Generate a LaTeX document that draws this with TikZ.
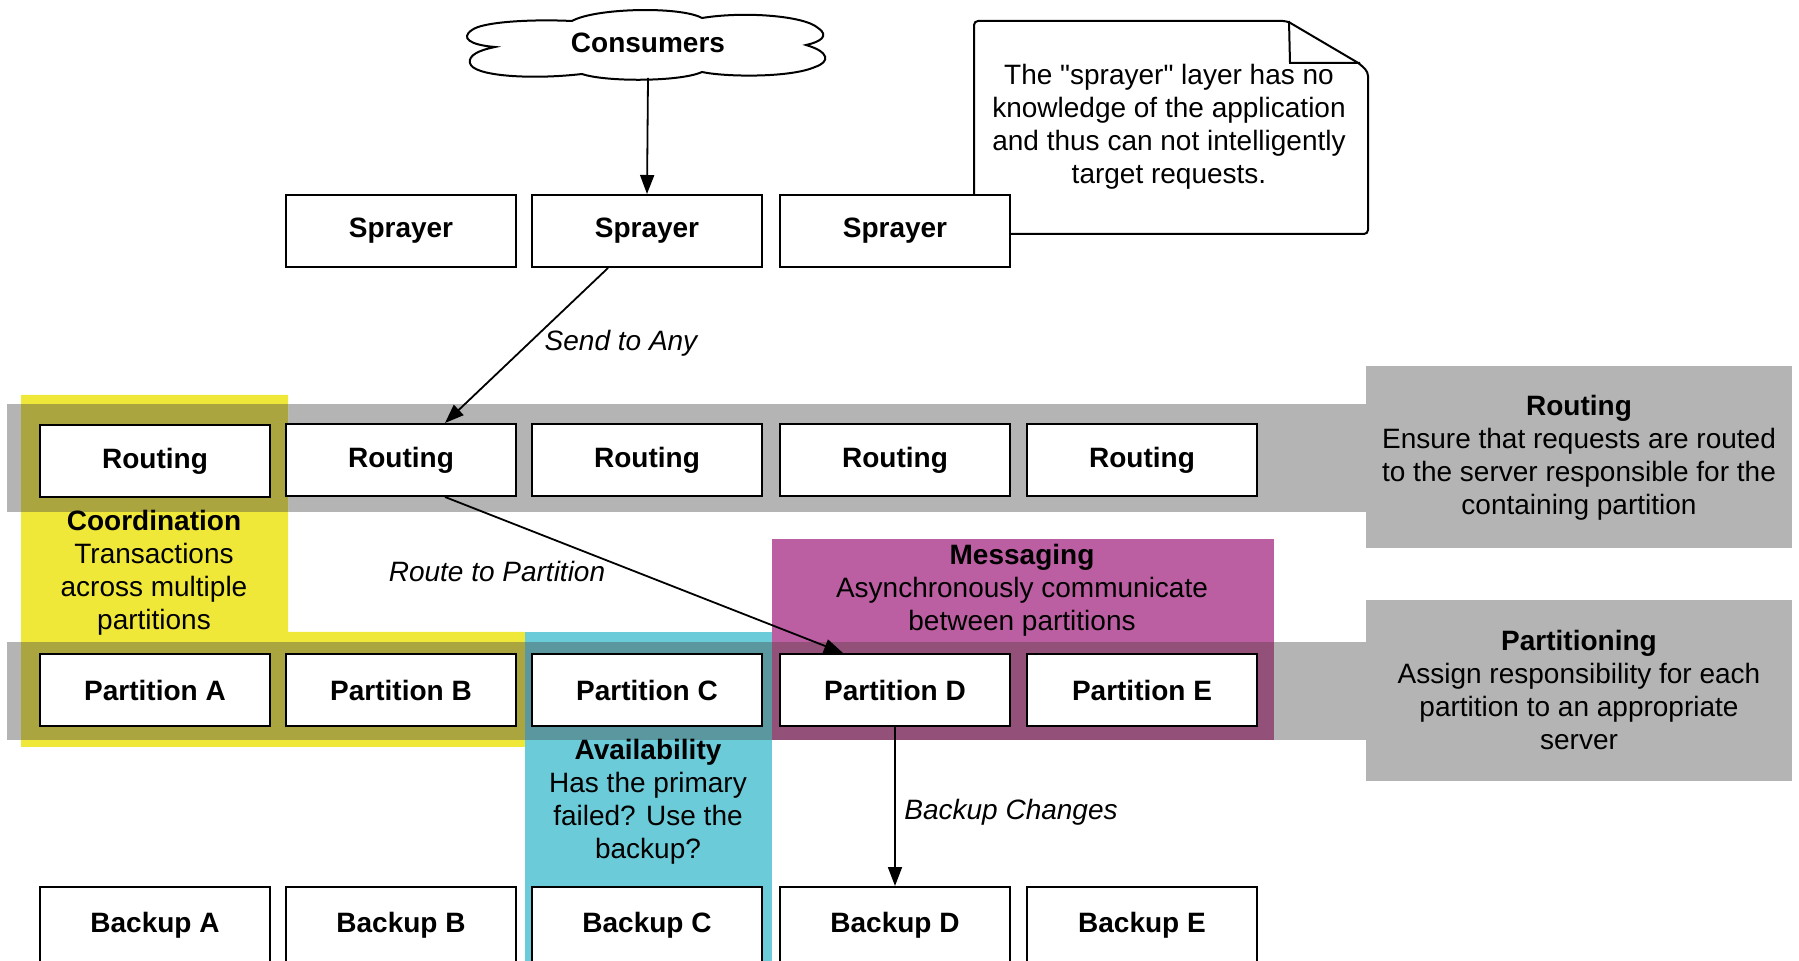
\documentclass[tikz,border=0pt]{standalone}
\usepackage{fontspec}
\setmainfont{Liberation Sans}
\newfontfamily\notefont{Liberation Sans}[Ligatures=TeXOff]
\usetikzlibrary{arrows.meta,calc}

\definecolor{bandgray}{HTML}{B4B4B4}
\definecolor{coordyellow}{HTML}{F0E839}
\definecolor{coordolive}{HTML}{AAA53E}
\definecolor{availcyan}{HTML}{6CCBD8}
\definecolor{availteal}{HTML}{5B979F}
\definecolor{msgmagenta}{HTML}{BC5EA2}
\definecolor{msgplum}{HTML}{935079}

\newcommand{\diagfont}{\fontsize{14}{16.5}\selectfont}

\tikzset{
  box/.style={draw, fill=white, line width=1pt, minimum width=115pt,
    minimum height=36pt, inner sep=0pt, font=\diagfont\bfseries},
  tallbox/.style={box, minimum height=38pt},
  conn/.style={line width=0.9pt, -{Triangle[length=9.5pt,width=7pt]}},
  edgelabel/.style={font=\diagfont\itshape, inner sep=0pt},
  infotext/.style={align=center, inner sep=0pt, font=\diagfont},
}

\begin{document}
\begin{tikzpicture}[x=0.5pt, y=-0.5pt]
\useasboundingbox (0,0) rectangle (1799,961);
\clip (0,0) rectangle (1799,961);

% layer bands
\fill[bandgray] (7,404) rectangle (1368,512);
\fill[bandgray] (7,642) rectangle (1368,740);
\fill[bandgray] (1366,366) rectangle (1792,548);
\fill[bandgray] (1366,600) rectangle (1792,781);

% concern regions
\fill[coordyellow] (21,395) -- (288,395) -- (288,632) -- (525,632) -- (525,747) -- (21,747) -- cycle;
\fill[availcyan] (525,632) rectangle (772,965);
\fill[msgmagenta] (772,539) rectangle (1274,740);

% where regions cross the bands
\fill[coordolive] (21,404) rectangle (288,512);
\fill[coordolive] (21,642) rectangle (525,740);
\fill[availteal] (525,642) rectangle (772,740);
\fill[msgplum] (772,642) rectangle (1274,740);

% note with folded corner
\draw[line width=1pt, fill=white, rounded corners=2pt]
  (974,200) -- (974,21) -- (1287,21) -- (1360,64) -- (1368,72) -- (1368,234) -- (1000,234);
\draw[line width=1pt] (1289,21) -- (1290,63) -- (1360,63);
\node[infotext, font=\diagfont\notefont] (note) at (1169,127)
  {The "sprayer" layer has no\\knowledge of the application\\and thus can not intelligently\\target requests.};

% consumers cloud
\draw[line width=1pt, fill=white]
  (495,47) .. controls (470,45) and (460,38) .. (472,30)
  .. controls (482,22) and (530,19) .. (572,21)
  .. controls (595,8) and (680,6) .. (702,18)
  .. controls (745,11) and (805,16) .. (818,28)
  .. controls (830,36) and (820,42) .. (806,45)
  .. controls (830,52) and (830,62) .. (815,67)
  .. controls (790,78) and (725,77) .. (702,72)
  .. controls (680,82) and (605,82) .. (582,74)
  .. controls (530,80) and (472,76) .. (470,63)
  .. controls (468,55) and (480,50) .. (495,47) -- cycle;
\node[font=\diagfont\bfseries, inner sep=0pt] (cons) at (648,43) {Consumers};
\coordinate (consbot) at (648,78);

% sprayers
\node[box] (s1) at (401,231) {Sprayer};
\node[box] (s2) at (647,231) {Sprayer};
\node[box] (s3) at (895,231) {Sprayer};

% routing row
\node[box] (r1) at (155,461) {Routing};
\node[box] (r2) at (401,460) {Routing};
\node[box] (r3) at (647,460) {Routing};
\node[box] (r4) at (895,460) {Routing};
\node[box] (r5) at (1142,460) {Routing};

% partition row
\node[box] (p1) at (155,690) {Partition A};
\node[box] (p2) at (401,690) {Partition B};
\node[box] (p3) at (647,690) {Partition C};
\node[box] (p4) at (895,690) {Partition D};
\node[box] (p5) at (1142,690) {Partition E};

% backup row
\node[tallbox] (b1) at (155,925) {Backup A};
\node[tallbox] (b2) at (401,925) {Backup B};
\node[tallbox] (b3) at (647,925) {Backup C};
\node[tallbox] (b4) at (895,925) {Backup D};
\node[tallbox] (b5) at (1142,925) {Backup E};

% connectors
\draw[conn] (consbot) -- (s2.north);
\draw[conn] ($(s2.south)+(-39,0)$) -- ($(r2.north)+(44,0)$);
\draw[conn] ($(r2.south)+(44,0)$) -- ($(p4.north)+(-52,0)$);
\draw[conn] (p4.south) -- (b4.north);

\node[edgelabel] (lsend) at (621,343) {Send to Any};
\node[edgelabel] (lroute) at (497,571) {Route to Partition};
\node[edgelabel, anchor=west] (lbackup) at (904,812) {Backup Changes};

% region descriptions
\node[infotext] (tcoord) at (154,573)
  {\textbf{Coordination}\\Transactions\\across multiple\\partitions};
\node[infotext] (tavail) at (648,802)
  {\textbf{Availability}\\Has the primary\\failed? Use the\\backup?};
\node[infotext] (tmsg) at (1022,590)
  {\textbf{Messaging}\\Asynchronously communicate\\between partitions};
\node[infotext] (trout) at (1579,458)
  {\textbf{Routing}\\Ensure that requests are routed\\to the server responsible for the\\containing partition};
\node[infotext] (tpart) at (1579,690)
  {\textbf{Partitioning}\\Assign responsibility for each\\partition to an appropriate\\server};
\end{tikzpicture}
\end{document}
